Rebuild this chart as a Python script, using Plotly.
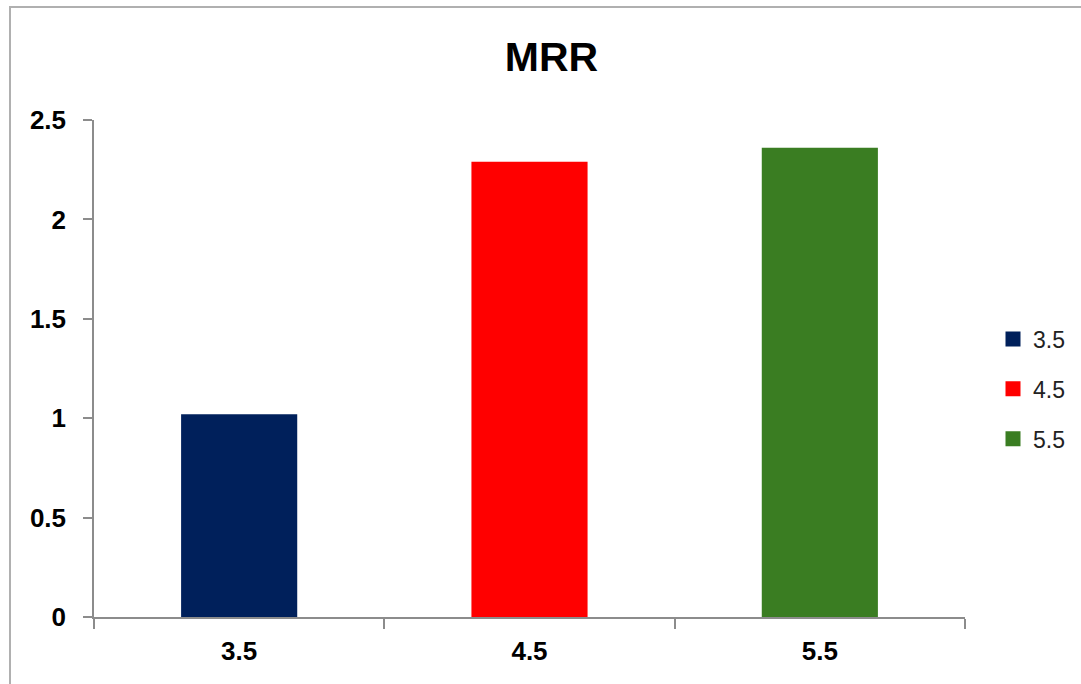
import plotly.graph_objects as go

categories = ["3.5", "4.5", "5.5"]
mrr_values = [1.02, 2.29, 2.36]
bar_colors = ["#00205B", "#FF0000", "#3A7D22"]
y_ticks = [0, 0.5, 1, 1.5, 2, 2.5]

fig = go.Figure()

for cat, val, col in zip(categories, mrr_values, bar_colors):
    fig.add_trace(go.Bar(
        x=[cat], y=[val], name=cat, width=0.4,
        marker=dict(color=col, line=dict(width=0)),
        showlegend=False,
    ))
    # square legend swatch, one group per entry so the gap applies
    fig.add_trace(go.Scatter(
        x=[None], y=[None], name=cat, mode="markers", legendgroup=cat,
        marker=dict(symbol="square", size=15, color=col),
    ))

W, H = 1081, 684
ml, mr, mt, mb = 94, 116, 120, 67
pw, ph = W - ml - mr, H - mt - mb
FONT = "Liberation Sans, Arial, sans-serif"

fig.update_layout(
    width=W, height=H,
    margin=dict(l=ml, r=mr, t=mt, b=mb, autoexpand=False),
    paper_bgcolor="white", plot_bgcolor="white",
    barmode="overlay",
    font=dict(family=FONT, color="black"),
    title=dict(text="<b>MRR</b>", x=(551.5 - ml) / pw, xref="paper", xanchor="center",
               y=(H - 57) / H, yanchor="middle",
               font=dict(size=41, color="black")),
    legend=dict(xref="container", x=993 / W, y=(mt + ph - 389) / ph,
                xanchor="left", yanchor="middle",
                font=dict(size=23, color="#222"), itemwidth=30,
                tracegroupgap=17, bgcolor="rgba(0,0,0,0)"),
    xaxis=dict(
        type="category", categoryorder="array", categoryarray=categories,
        showline=True, linecolor="#8c8c8c", linewidth=1.5,
        ticks="outside", tickson="boundaries", ticklen=10, tickcolor="#8c8c8c",
        tickwidth=1.5,
        tickfont=dict(size=26, color="black", family=FONT),
        ticklabelstandoff=10,
        tickprefix="<b>", ticksuffix="</b>",
        showgrid=False, zeroline=False, automargin=False,
    ),
    yaxis=dict(
        range=[0, 2.5], tickvals=y_ticks,
        ticktext=[f"<b>{v:g}</b>" for v in y_ticks],
        showline=True, linecolor="#8c8c8c", linewidth=1.5,
        ticks="outside", ticklen=9, tickcolor="#8c8c8c", tickwidth=1.5,
        tickfont=dict(size=26, color="black"),
        ticklabelstandoff=12,
        showgrid=False, zeroline=False, automargin=False,
    ),
)

# outer chart frame
fig.add_shape(
    type="rect", xref="paper", yref="paper",
    x0=(10 - ml) / pw, x1=(W + 20 - ml) / pw,
    y0=-(H + 20 - (mt + ph)) / ph, y1=(mt + ph - 7) / ph,
    line=dict(color="#b0b0b0", width=2), fillcolor="rgba(0,0,0,0)", layer="below",
)

fig.write_html("out.html")
